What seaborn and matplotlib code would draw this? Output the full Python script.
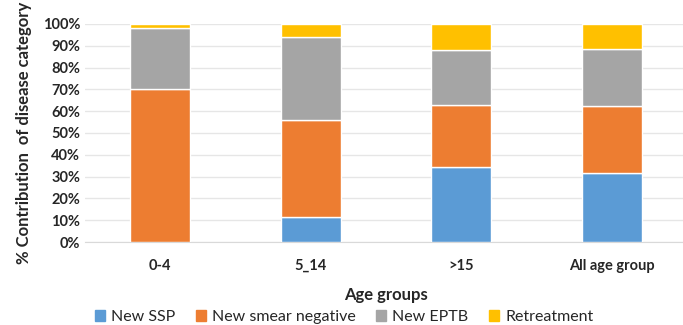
import numpy as np
import pandas as pd
import matplotlib
matplotlib.use("Agg")
import matplotlib.pyplot as plt
import seaborn as sns
from matplotlib.patches import Patch
from matplotlib.ticker import PercentFormatter

age_groups = ['0-4', '5_14', '>15', 'All age group']
new_ssp = [0.0, 11.5, 34.5, 31.5]
new_smear_negative = [70.0, 44.5, 28.5, 31.0]
new_eptb = [28.0, 38.0, 25.0, 26.0]
retreatment = [2.0, 6.0, 12.0, 11.5]

series = {
    'New SSP': new_ssp,
    'New smear negative': new_smear_negative,
    'New EPTB': new_eptb,
    'Retreatment': retreatment,
}
colors = ['#5B9BD5', '#ED7D31', '#A5A5A5', '#FFC000']

sns.set_style('white')
plt.rcParams['font.family'] = ['Lato', 'DejaVu Sans']

fig = plt.figure(figsize=(6.83, 3.25), dpi=100)
ax = fig.add_axes([85 / 683, 1 - 242 / 325, (687 - 85) / 683, (242 - 24) / 325])

# stacked bars, one layer per category
bottom = np.zeros(len(age_groups))
for (name, vals), col in zip(series.items(), colors):
    df = pd.DataFrame({'group': age_groups, 'value': vals})
    sns.barplot(data=df, x='group', y='value', bottom=bottom, color=col,
                width=0.4, ax=ax, saturation=1, zorder=3)
    bottom = bottom + np.array(vals)

ax.set_xlim(-0.5, 3.5)
ax.set_ylim(0, 100)
ax.set_yticks(np.arange(0, 101, 10))
ax.yaxis.set_major_formatter(PercentFormatter(decimals=0))
ax.grid(axis='y', color='#E6E6E6', linewidth=1, zorder=0)
ax.set_axisbelow(True)
for s in ['top', 'right', 'left']:
    ax.spines[s].set_visible(False)
ax.spines['bottom'].set_color('#D9D9D9')
ax.tick_params(axis='both', length=0, labelsize=10.5)
ax.tick_params(axis='x', pad=12)
for lbl in ax.get_xticklabels() + ax.get_yticklabels():
    lbl.set_fontweight('bold')

ax.set_xlabel('Age groups', fontsize=12, fontweight='bold', labelpad=10)
ax.set_ylabel('% Contribution  of disease category', fontsize=12, fontweight='bold', labelpad=8)

handles = [Patch(color=c, label=n) for n, c in zip(series.keys(), colors)]
fig.legend(handles=handles, loc='center', bbox_to_anchor=(0.504, 0.024), ncol=4,
           frameon=False, fontsize=11.5, handlelength=0.6, handleheight=0.6,
           handletextpad=0.4, columnspacing=1.3)

fig.savefig('out.png', dpi=100)
